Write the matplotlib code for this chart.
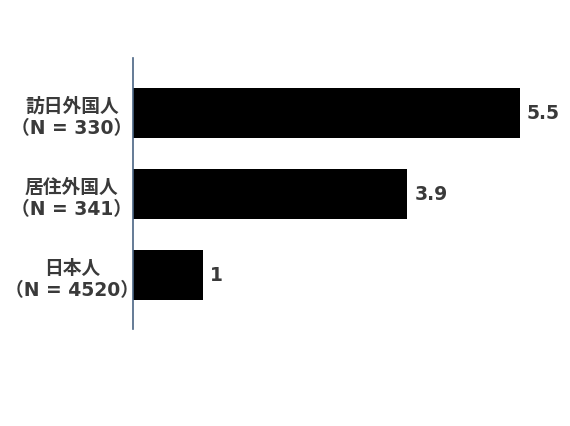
import matplotlib
matplotlib.use("Agg")
import matplotlib.pyplot as plt

# data (top to bottom as in the chart)
groups = ["訪日外国人\n（N = 330）", "居住外国人\n（N = 341）", "日本人\n（N = 4520）"]
values = [5.5, 3.9, 1]
value_labels = ["5.5", "3.9", "1"]

plt.rcParams['font.family'] = ['DejaVu Sans', 'Noto Sans CJK JP']
txtcol = "#3a3a3a"

fig = plt.figure(figsize=(5.7, 4.27), dpi=100)
ax = fig.add_axes([133/570, 1-330/427, 422/570, 271/427])

ypos = list(range(len(values)))[::-1]
ax.barh(ypos, values, height=0.62, color="black")
for y, v, lab in zip(ypos, values, value_labels):
    ax.annotate(lab, (v, y), xytext=(5, 0), textcoords="offset points",
                va="center", ha="left", fontsize=13.5, fontweight="bold",
                color=txtcol)

ax.set_xlim(0, 6)
ax.set_ylim(-0.667, 2.679)
ax.set_xticks([])
ax.set_yticks(ypos)
ax.set_yticklabels(groups, fontsize=13.5, fontweight="bold", color=txtcol,
                   linespacing=1.2)
ax.tick_params(axis="y", length=0, pad=44)
for t in ax.get_yticklabels():
    t.set_horizontalalignment("center")
    t.set_multialignment("center")

for s in ["top", "right", "bottom"]:
    ax.spines[s].set_visible(False)
ax.spines["left"].set_color("#4a6584")
ax.spines["left"].set_linewidth(1.2)

fig.savefig("out.png", dpi=100)
